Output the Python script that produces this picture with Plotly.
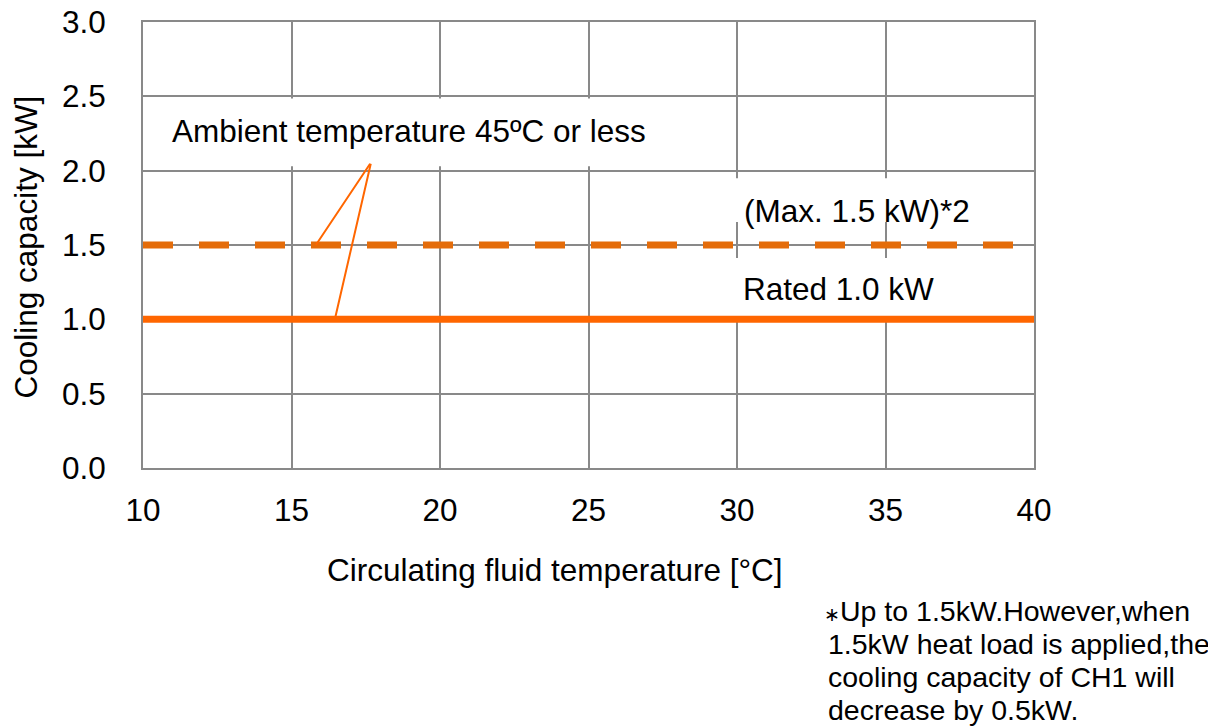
import plotly.graph_objects as go

# ---- data ----
fluid_temp = [10, 40]                 # Circulating fluid temperature [°C]
rated_capacity = [1.0, 1.0]           # Rated 1.0 kW
max_capacity = [1.5, 1.5]             # (Max. 1.5 kW)*2
x_ticks = [10, 15, 20, 25, 30, 35, 40]
y_ticks = [0.0, 0.5, 1.0, 1.5, 2.0, 2.5, 3.0]

FONT = "Liberation Sans, Arial, sans-serif"
GRID = "#898989"

# plot area in page pixels (reference); page has an 8px body offset
PL, PR, PT, PB = 143, 1034, 22, 468
OFF = 8
W, H = 1216, 727


def px(p):
    return (p - PL) / (PR - PL)


def py(p):
    return (PB - p) / (PB - PT)


fig = go.Figure()
fig.add_trace(go.Scatter(x=fluid_temp, y=max_capacity, mode="lines",
                         line=dict(color="#E46C0A", width=7, dash="30px,26px"),
                         hoverinfo="skip"))
fig.add_trace(go.Scatter(x=fluid_temp, y=rated_capacity, mode="lines",
                         line=dict(color="#FF6600", width=7),
                         hoverinfo="skip"))

# white text-box backgrounds (hide grid lines behind labels, below traces)
for x0, x1, y0, y1 in [(10.77, 27.6, 2.03, 2.485),
                       (29.7, 36.5, 1.654, 1.949),
                       (29.7, 36.5, 1.02, 1.412)]:
    fig.add_shape(type="rect", xref="x", yref="y", x0=x0, x1=x1, y0=y0, y1=y1,
                  fillcolor="white", line=dict(width=0), layer="between")

txt = dict(family=FONT, size=31.5, color="black")
fig.add_annotation(x=10.9, y=2.265, xref="x", yref="y", xanchor="left", yanchor="middle",
                   text="Ambient temperature 45ºC or less", showarrow=False, font=txt)
fig.add_annotation(x=30.17, y=1.728, xref="x", yref="y", xanchor="left", yanchor="middle",
                   text="(Max. 1.5 kW)*2", showarrow=False, font=txt)
fig.add_annotation(x=30.14, y=1.203, xref="x", yref="y", xanchor="left", yanchor="middle",
                   text="Rated 1.0 kW", showarrow=False, font=txt)

# leader lines from the ambient label to both lines
for lx, ly in [(15.82, max_capacity[0]), (16.46, rated_capacity[0])]:
    fig.add_annotation(x=lx, y=ly, xref="x", yref="y", ax=17.68, ay=2.057,
                       axref="x", ayref="y", text="", showarrow=True,
                       arrowhead=0, arrowwidth=2, arrowcolor="#FF6600",
                       standoff=0, startstandoff=0)

# axis titles
fig.add_annotation(x=px(555), y=py(569.5), xref="paper", yref="paper",
                   text="Circulating fluid temperature [°C]", showarrow=False,
                   xanchor="center", yanchor="middle", font=txt)
fig.add_annotation(x=px(25.5), y=py(247), xref="paper", yref="paper",
                   text="Cooling capacity [kW]", showarrow=False, textangle=-90,
                   xanchor="center", yanchor="middle", font=txt)

# footnote
foot = dict(family=FONT, size=28.5, color="black")
foot_lines = ['<span style="font-size:19px">∗</span>Up to 1.5kW.However,when',
              "1.5kW heat load is applied,the",
              "cooling capacity of CH1 will",
              "decrease by 0.5kW."]
foot_x = [822, 826, 826, 826]
foot_y = [610.5, 643.5, 676.5, 709.5]
for t, fx, fy in zip(foot_lines, foot_x, foot_y):
    fig.add_annotation(x=px(fx), y=py(fy), xref="paper", yref="paper",
                       text=t, showarrow=False, xanchor="left", yanchor="middle",
                       font=foot)

axis_common = dict(showgrid=True, gridcolor=GRID, gridwidth=2, zeroline=False,
                   showline=True, mirror=True, linecolor=GRID, linewidth=2,
                   ticks="", ticklabeloverflow="allow",
                   tickfont=dict(family=FONT, size=31.5, color="black"))
fig.update_xaxes(range=[10, 40], tickvals=x_ticks, ticklabelstandoff=13, **axis_common)
fig.update_yaxes(range=[0, 3], tickvals=y_ticks, tickformat=".1f",
                 ticklabelstandoff=29, **axis_common)

fig.update_layout(width=W, height=H, showlegend=False,
                  margin=dict(l=PL - OFF, r=W - (PR - OFF), t=PT - OFF,
                              b=H - (PB - OFF), autoexpand=False),
                  plot_bgcolor="white", paper_bgcolor="white",
                  font=dict(family=FONT))

fig.write_html("out.html")
